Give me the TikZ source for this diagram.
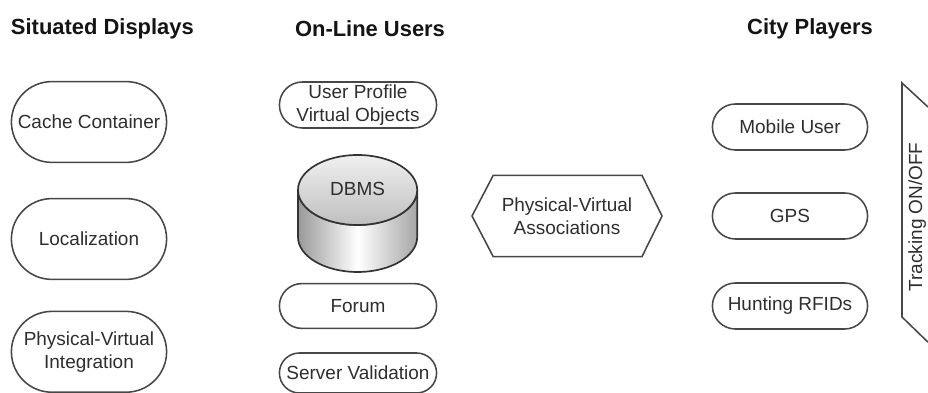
\documentclass[tikz,border=0pt]{standalone}
\usepackage{fontspec}
\setmainfont{Liberation Sans}
\usepackage{tikz}
\usetikzlibrary{arrows,shapes,positioning}

\begin{document}
\begin{tikzpicture}[
      blob/.style={draw=black!72, line width=1.1pt, rounded rectangle, align=center,
        text=black!82, inner sep=1pt, font=\fontsize{13.5}{16.4}\selectfont},
      head/.style={text=black!92, font=\bfseries\fontsize{15.6}{18}\selectfont}]
      \useasboundingbox (0,0) rectangle (23.2,9.825);
      % column titles
      \node[head] (situated) at (2.56,9.1) {Situated Displays};
      \node[head] (online) at (9.25,9.1) {On-Line Users};
      \node[head] (city) at (20.25,9.1) {City Players};
      % situated displays
      \node[blob, minimum width=3.95cm, minimum height=2.02cm] (cache) at (2.225,6.775) {Cache Container};
      \node[blob, minimum width=3.95cm, minimum height=2.02cm] (local) at (2.225,3.85) {Localization};
      \node[blob, minimum width=3.95cm, minimum height=2.02cm] (integr) at (2.225,1.03) {Physical-Virtual\\Integration};
      % on-line users
      \node[blob, minimum width=4cm, minimum height=1.15cm] (profile) at (8.95,7.2) {User Profile\\Virtual Objects};
      \draw[draw=black!80, line width=1.2pt, left color=black!40, right color=black!35, middle color=white]
        (7.45,5.075) -- (7.45,3.9) arc[start angle=180, end angle=360, x radius=1.49cm, y radius=0.875cm]
        -- (10.43,5.075) arc[start angle=0, end angle=-180, x radius=1.49cm, y radius=0.875cm] -- cycle;
      \draw[draw=black!80, line width=1.2pt, top color=black!6, bottom color=black!25]
        (8.94,5.075) ellipse [x radius=1.49cm, y radius=0.875cm];
      \node[text=black!82, font=\fontsize{13.5}{16.4}\selectfont] (dbms) at (8.94,5.1) {DBMS};
      \node[blob, minimum width=4cm, minimum height=1.12cm] (forum) at (8.95,2.175) {Forum};
      \node[blob, minimum width=4cm, minimum height=1.0cm] (server) at (8.95,0.5) {Server Validation};
      % associations
      \draw[draw=black!72, line width=1.1pt] (11.8,4.425) -- (12.33,5.44) -- (16.05,5.44)
        -- (16.55,4.425) -- (16.05,3.41) -- (12.33,3.41) -- cycle;
      \node[align=center, text=black!82, font=\fontsize{13.5}{16.4}\selectfont] (assoc) at (14.175,4.43) {Physical-Virtual\\Associations};
      % city players
      \node[blob, minimum width=3.95cm, minimum height=1.15cm] (mobile) at (19.75,6.65) {Mobile User};
      \node[blob, minimum width=3.95cm, minimum height=1.15cm] (gps) at (19.75,4.425) {GPS};
      \node[blob, minimum width=3.95cm, minimum height=1.15cm] (rfid) at (19.75,2.175) {Hunting RFIDs};
      % tracking
      \draw[draw=black!72, line width=1.1pt] (23.2,7.15) -- (22.55,7.75) -- (22.55,1.9) -- (23.2,1.27);
      \node[rotate=90, text=black!82, font=\fontsize{13.5}{16.4}\selectfont] (track) at (22.93,4.4) {Tracking ON/OFF};
    \end{tikzpicture}
\end{document}
